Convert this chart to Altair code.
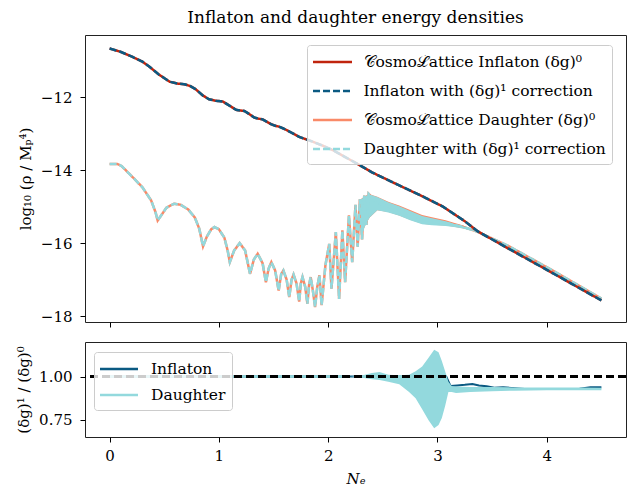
import altair as alt
import pandas as pd

FONT = "DejaVu Serif"
RED, BLUE, SALMON, CYAN = "#c0240e", "#0b5a82", "#f98a68", "#93d9dd"

# ---------------- top panel data ----------------
infl_N = [0, 0.1, 0.21, 0.3, 0.365, 0.45, 0.55, 0.62, 0.685, 0.74, 0.79, 0.85, 0.91, 0.97,
          1.035, 1.1, 1.157, 1.2, 1.233, 1.28, 1.324, 1.36, 1.40, 1.44, 1.476, 1.51, 1.55,
          1.59, 1.63, 1.68, 1.735, 1.80, 1.857, 1.95, 2.04, 2.22, 2.4, 2.65, 2.85, 3.05,
          3.25, 3.37, 3.65, 4.0, 4.5]
infl_y = [-10.67, -10.76, -10.90, -11.03, -11.17, -11.38, -11.58, -11.63, -11.65, -11.70,
          -11.79, -11.95, -12.06, -12.10, -12.12, -12.24, -12.35, -12.37, -12.38, -12.47,
          -12.56, -12.59, -12.61, -12.68, -12.74, -12.78, -12.81, -12.86, -12.92, -13.0,
          -13.09, -13.16, -13.22, -13.33, -13.45, -13.75, -14.06, -14.42, -14.70, -15.0,
          -15.40, -15.68, -16.15, -16.73, -17.57]

daug_N = [0, 0.07, 0.11, 0.21, 0.30, 0.38, 0.42, 0.44, 0.47, 0.52, 0.59, 0.65, 0.72, 0.78,
          0.82, 0.855, 0.89, 0.93, 0.96, 1.0, 1.05, 1.08, 1.10, 1.14, 1.19, 1.24, 1.285,
          1.32, 1.355, 1.40, 1.43, 1.455, 1.48, 1.515, 1.547, 1.57, 1.59, 1.62, 1.644, 1.665,
          1.683, 1.71, 1.735, 1.75, 1.765, 1.79, 1.81, 1.825, 1.84, 1.86, 1.88, 1.90, 1.92,
          1.93, 1.94, 1.975, 2.01, 2.03, 2.07, 2.10, 2.13, 2.155, 2.19, 2.22, 2.25, 2.27,
          2.29, 2.31, 2.33, 2.35, 2.37, 2.45, 2.65, 2.86, 3.075, 3.23, 3.36, 3.65, 4.0, 4.5]
daug_y = [-13.83, -13.83, -13.89, -14.19, -14.47, -14.83, -15.15, -15.38, -15.25, -15.03,
          -14.92, -14.95, -15.08, -15.30, -15.60, -16.09, -15.82, -15.62, -15.56, -15.62,
          -15.85, -16.2, -16.52, -16.2, -16.0, -16.2, -16.84, -16.45, -16.29, -16.55, -17.07,
          -16.7, -16.52, -16.75, -17.30, -16.85, -16.75, -17.0, -17.48, -17.0, -16.86, -17.1,
          -17.60, -17.1, -16.93, -17.2, -17.66, -17.15, -16.93, -17.3, -17.75, -17.2, -16.88,
          -17.3, -17.70, -16.6, -16.02, -17.25, -15.70, -17.53, -15.65, -17.07, -15.24,
          -16.52, -14.95, -16.1, -14.8, -15.9, -14.7, -15.5, -14.65, -14.9, -15.1, -15.35,
          -15.45, -15.55, -15.68, -16.08, -16.66, -17.52]

band_N = [2.30, 2.35, 2.38, 2.45, 2.55, 2.65, 2.75, 2.86, 2.95, 3.075, 3.15, 3.23, 3.30, 3.36]
band_up0 = [-14.79, -14.69, -14.66, -14.73, -14.87, -14.97, -15.09, -15.23, -15.29, -15.37,
            -15.44, -15.51, -15.60, -15.68]
band_lo0 = [-15.8, -15.45, -15.3, -15.1, -15.15, -15.24, -15.36, -15.47, -15.5, -15.52,
            -15.55, -15.59, -15.64, -15.70]
band_up1 = [-14.80, -14.70, -14.67, -14.74, -14.88, -14.99, -15.12, -15.26, -15.32, -15.40,
            -15.47, -15.53, -15.61, -15.68]
band_lo1 = [-15.8, -15.45, -15.3, -15.1, -15.16, -15.25, -15.37, -15.48, -15.51, -15.53,
            -15.56, -15.60, -15.65, -15.70]

# ---------------- bottom panel data ----------------
rinf_N = [0, 3.08, 3.12, 3.18, 3.25, 3.32, 3.38, 3.45, 3.52, 3.6, 3.8, 4.0, 4.3, 4.4, 4.5]
rinf_v = [1.0, 1.0, 0.945, 0.948, 0.952, 0.957, 0.948, 0.944, 0.935, 0.938, 0.928, 0.928,
          0.93, 0.938, 0.938]
rdau_N = [0, 2.2]
rdau_v = [1.0, 1.0]
rband_N = [2.2, 2.3, 2.4, 2.47, 2.55, 2.65, 2.74, 2.80, 2.86, 2.92, 2.97, 3.01, 3.04, 3.07,
           3.10, 3.13, 3.17, 3.3, 3.5, 3.7, 4.0, 4.3, 4.5]
rband_up = [1.0, 1.005, 1.02, 1.027, 1.01, 1.008, 1.01, 1.03, 1.058, 1.11, 1.155, 1.14, 1.09,
            1.03, 0.97, 0.945, 0.942, 0.94, 0.94, 0.937, 0.936, 0.936, 0.935]
rband_lo = [1.0, 0.995, 0.985, 0.98, 0.97, 0.955, 0.91, 0.875, 0.81, 0.745, 0.70, 0.72, 0.76,
            0.83, 0.91, 0.91, 0.905, 0.91, 0.915, 0.918, 0.92, 0.92, 0.92]

L1 = "𝒞osmoℒattice Inflaton (δg)⁰"
L2 = "Inflaton with (δg)¹ correction"
L3 = "𝒞osmoℒattice Daughter (δg)⁰"
L4 = "Daughter with (δg)¹ correction"

rows = []
for key, lab, Ns, ys in [("i0", L1, infl_N, infl_y), ("i1", L2, infl_N, infl_y),
                         ("d0", L3, daug_N, daug_y), ("d1", L4, daug_N, daug_y)]:
    for n, v in zip(Ns, ys):
        rows.append({"N": n, "y": v, "key": key, "series": lab})
top_df = pd.DataFrame(rows)
band_df = pd.DataFrame({"N": band_N, "up0": band_up0, "lo0": band_lo0,
                        "up1": band_up1, "lo1": band_lo1})

rrows = []
for lab, Ns, vs in [("Inflaton", rinf_N, rinf_v), ("Daughter", rdau_N, rdau_v)]:
    for n, v in zip(Ns, vs):
        rrows.append({"N": n, "v": v, "series": lab})
ratio_df = pd.DataFrame(rrows)
rband_df = pd.DataFrame({"N": rband_N, "up": rband_up, "lo": rband_lo})

# ---------------- scales / axes ----------------
x_scale = alt.Scale(domain=[-0.225, 4.725], nice=False, zero=False)
ytop_scale = alt.Scale(domain=[-18.16, -10.3], nice=False, zero=False)
ybot_scale = alt.Scale(domain=[0.65, 1.2], nice=False, zero=False)

axis_common = dict(labelFont=FONT, labelFontSize=15, labelColor="black", tickColor="black",
                   tickSize=5, tickWidth=1, domain=False, grid=False, titleFont=FONT,
                   titleFontSize=15, titleFontWeight="normal", titleColor="black")

x_top_axis = alt.Axis(values=[0, 1, 2, 3, 4], labels=False, title=None, **axis_common)
x_bot_axis = alt.Axis(values=[0, 1, 2, 3, 4], format="d", title="Nₑ", labelPadding=6,
                      titleFontStyle="italic", titlePadding=8, **axis_common)
y_top_axis = alt.Axis(values=[-18, -16, -14, -12], format="d", title="log₁₀ (ρ / Mₚ⁴)",
                      labelPadding=8, titlePadding=7, **axis_common)
y_bot_axis = alt.Axis(values=[0.75, 1.0], format=".2f", title="(δg)¹ / (δg)⁰",
                      labelPadding=8, titlePadding=7, **axis_common)

XT = alt.X("N:Q", scale=x_scale, axis=x_top_axis)
XB = alt.X("N:Q", scale=x_scale, axis=x_bot_axis)

top_legend = alt.Legend(title=None, orient="none", legendX=222, legendY=10,
                        symbolType="M-2,0H2", symbolSize=380, symbolStrokeWidth=2.5,
                        symbolOffset=8.5, labelOffset=20, rowPadding=9, padding=6,
                        fillColor="rgba(255,255,255,0.8)", strokeColor="#cccccc",
                        cornerRadius=3, labelFont=FONT, labelFontSize=15.5,
                        labelColor="black", labelLimit=400)
color_scale = alt.Scale(domain=[L1, L2, L3, L4], range=[RED, BLUE, SALMON, CYAN])
dash_scale = alt.Scale(domain=[L1, L2, L3, L4], range=[[1, 0], [7, 3], [1, 0], [7, 3]])
YT_title = "log₁₀ (ρ / Mₚ⁴)"


def top_line(key):
    return alt.Chart(top_df).transform_filter(alt.datum.key == key).mark_line(
        strokeWidth=2.5, clip=True).encode(
        x=XT,
        y=alt.Y("y:Q", scale=ytop_scale, axis=y_top_axis, title=YT_title),
        color=alt.Color("series:N", scale=color_scale, legend=top_legend),
        strokeDash=alt.StrokeDash("series:N", scale=dash_scale, legend=top_legend),
    )


def top_band(up, lo, col):
    return alt.Chart(band_df).mark_area(color=col, opacity=1, clip=True).encode(
        x=XT,
        y=alt.Y(f"{up}:Q", scale=ytop_scale, axis=y_top_axis, title=YT_title),
        y2=alt.Y2(f"{lo}:Q"),
    )


top = alt.layer(
    top_band("up0", "lo0", SALMON),
    top_line("d0"),
    top_band("up1", "lo1", CYAN),
    top_line("d1"),
    top_line("i0"),
    top_line("i1"),
).properties(
    width=541, height=287,
    title=alt.TitleParams("Inflaton and daughter energy densities", font=FONT, fontSize=17,
                          fontWeight="normal", color="black", anchor="middle", offset=8),
)

bot_legend = alt.Legend(title=None, orient="none", legendX=9, legendY=10,
                        symbolType="M-2,0H2", symbolSize=361, symbolStrokeWidth=2.5,
                        symbolOffset=8, labelOffset=21, rowPadding=6, padding=6,
                        fillColor="rgba(255,255,255,0.8)", strokeColor="#cccccc",
                        cornerRadius=3, labelFont=FONT, labelFontSize=15.5,
                        labelColor="black")
bcolor = alt.Scale(domain=["Inflaton", "Daughter"], range=[BLUE, CYAN])
YB_title = "(δg)¹ / (δg)⁰"

rband = alt.Chart(rband_df).mark_area(color=CYAN, opacity=1, clip=True).encode(
    x=XB,
    y=alt.Y("up:Q", scale=ybot_scale, axis=y_bot_axis, title=YB_title),
    y2=alt.Y2("lo:Q"),
)


def bot_line(lab, width):
    return alt.Chart(ratio_df).transform_filter(alt.datum.series == lab).mark_line(
        strokeWidth=width, clip=True).encode(
        x=XB,
        y=alt.Y("v:Q", scale=ybot_scale, axis=y_bot_axis, title=YB_title),
        color=alt.Color("series:N", scale=bcolor, legend=bot_legend),
    )


one_rule = alt.Chart(ratio_df).mark_rule(color="black", strokeWidth=2,
                                         strokeDash=[8, 4]).encode(y=alt.datum(1.0))

bottom = alt.layer(bot_line("Inflaton", 2), rband, bot_line("Daughter", 2.5),
                   one_rule).properties(width=541, height=95)

chart = alt.vconcat(top, bottom, spacing=13).resolve_scale(
    color="independent", strokeDash="independent"
).resolve_legend(color="independent", strokeDash="independent").properties(
    padding={"left": 16, "top": 8, "right": 0, "bottom": 0}
).configure_view(stroke="#222222", strokeWidth=1)

chart.save("out.html", embed_options={"renderer": "svg", "actions": False})
